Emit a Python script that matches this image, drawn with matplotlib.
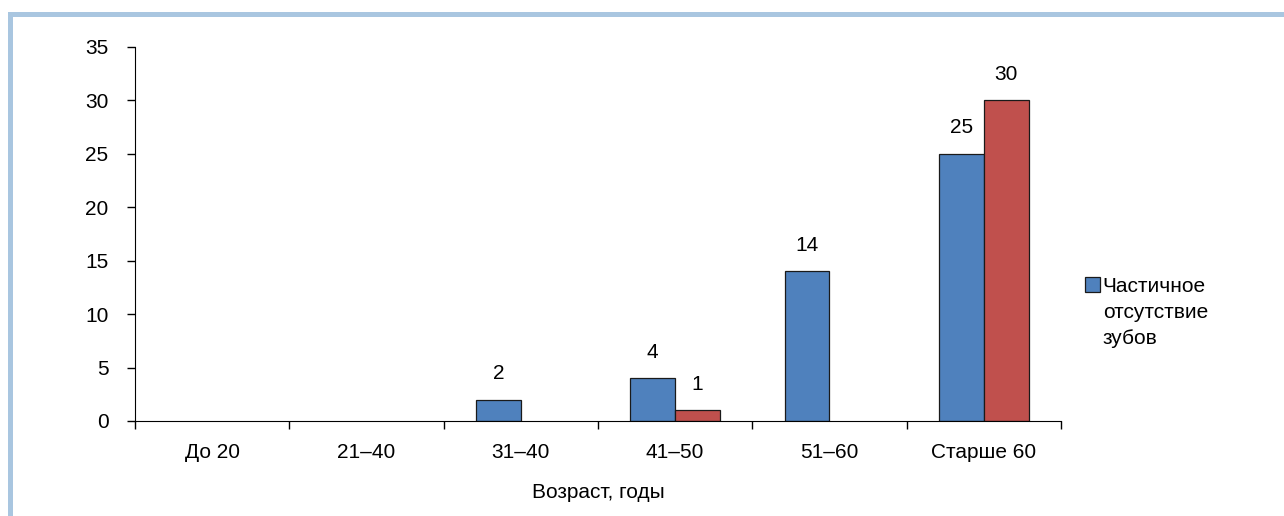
import numpy as np
import matplotlib.pyplot as plt
from matplotlib.patches import Rectangle

# данные
categories = ["До 20", "21–40", "31–40", "41–50", "51–60", "Старше 60"]
partial = [0, 0, 2, 4, 14, 25]
second = [0, 0, 0, 1, 0, 30]
legend_label = "Частичное\nотсутствие\nзубов"

plt.rcParams['font.family'] = ['Liberation Sans', 'DejaVu Sans']
plt.rcParams['font.size'] = 15

fig = plt.figure(figsize=(12.84, 5.16), dpi=100)
ax = fig.add_axes([135 / 1284, 1 - 421 / 516, (1061 - 135) / 1284, (421 - 47) / 516])

# рамка слайда
fig.patches.append(Rectangle((10 / 1284, -0.1), 1.2, 1 - 14 / 516 + 0.1,
                             transform=fig.transFigure, fill=False,
                             edgecolor='#a9c6e0', lw=3.6, zorder=0))

x = np.arange(len(categories))
w = 0.29
b1 = ax.bar(x - w / 2, partial, w, color='#4f81bd', edgecolor='#1a1a1a', lw=0.9,
            label=legend_label)
b2 = ax.bar(x + w / 2, second, w, color='#c0504d', edgecolor='#1a1a1a', lw=0.9,
            label='_nolegend_')

ax.set_xlim(-0.5, len(categories) - 0.5)
ax.set_ylim(0, 35)
ax.set_yticks(range(0, 36, 5))
ax.set_xticks(np.arange(len(categories) + 1) - 0.5)
ax.set_xticklabels([])
ax.set_xticks(x, minor=True)
ax.set_xticklabels(categories, minor=True)
ax.tick_params(axis='x', which='major', length=6, width=1)
ax.tick_params(axis='x', which='minor', length=0, pad=16)
ax.tick_params(axis='y', length=6, width=1, pad=13)
for s in ('top', 'right'):
    ax.spines[s].set_visible(False)
ax.set_xlabel("Возраст, годы", labelpad=15)

leg = ax.legend(loc='upper left', bbox_to_anchor=(1085 / 1284, 1 - 277 / 516),
                bbox_transform=fig.transFigure, frameon=False,
                handlelength=0.7, handleheight=0.7, handletextpad=0.15,
                borderpad=0, borderaxespad=0)
for t in leg.get_texts():
    t.set_linespacing(1.45)
# квадрат маркера на уровне первой строки
for col in leg._legend_handle_box.get_children():
    for hp in col.get_children():
        hp.align = 'top'

# подписи значений, нулевые столбцы не рисуем
for bars, vals in ((b1, partial), (b2, second)):
    for r, v in zip(bars, vals):
        if v:
            ax.annotate(str(v), (r.get_x() + r.get_width() / 2, v),
                        xytext=(0, 12), textcoords='offset points',
                        ha='center', va='bottom')
        else:
            r.set_visible(False)

fig.savefig("out.png", dpi=100)
